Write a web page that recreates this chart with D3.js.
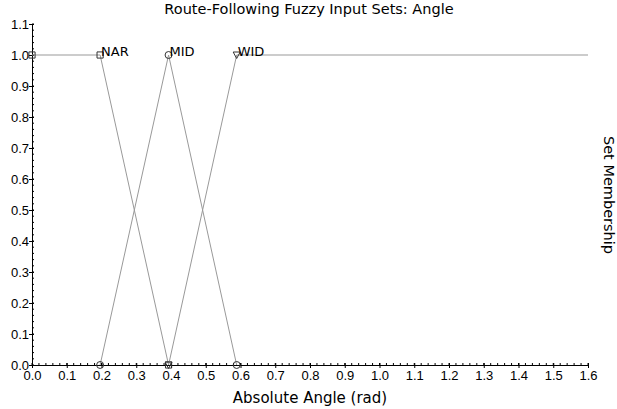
<!DOCTYPE html>
<html>
<head>
<meta charset="utf-8">
<script src="https://cdn.jsdelivr.net/npm/d3@7"></script>
<style>
  body { margin: 0; background: #fff; }
  svg { display: block; font-family: "DejaVu Sans", sans-serif; }
</style>
</head>
<body>
<div id="chart"></div>
<script>
// fuzzy sets: breakpoints (x = angle in rad, y = membership)
const setNames = ["NAR", "MID", "WID"];
const narX = [0.0, 0.196, 0.393];
const narY = [1.0, 1.0, 0.0];
const midX = [0.196, 0.393, 0.589];
const midY = [0.0, 1.0, 0.0];
const widX = [0.393, 0.589, 1.6];
const widY = [0.0, 1.0, 1.0];
const xTicks = d3.range(0, 17).map(i => i / 10);
const yTicks = d3.range(0, 12).map(i => i / 10);

const width = 617, height = 409;
const plotLeft = 32, plotRight = 588, plotTop = 24, plotBottom = 365;

const svg = d3.select("#chart").append("svg")
  .attr("width", width)
  .attr("height", height);

const x = d3.scaleLinear().domain([0, 1.6]).range([plotLeft, plotRight]);
const y = d3.scaleLinear().domain([0, 1.1]).range([plotBottom, plotTop]);

// title
svg.append("text")
  .attr("x", 309).attr("y", 14)
  .attr("text-anchor", "middle")
  .style("font-size", "14.5px")
  .text("Route-Following Fuzzy Input Sets: Angle");

// minor ticks
const xMinor = d3.range(0, 81).map(i => i / 50);
const yMinor = d3.range(0, 56).map(i => i / 50);

svg.append("g")
  .attr("transform", `translate(0,${plotBottom})`)
  .selectAll("line").data(xMinor).enter().append("line")
  .attr("x1", d => x(d)).attr("x2", d => x(d))
  .attr("y1", 0).attr("y2", -2)
  .attr("stroke", "#000");

svg.append("g")
  .attr("transform", `translate(${plotLeft},0)`)
  .selectAll("line").data(yMinor).enter().append("line")
  .attr("y1", d => y(d)).attr("y2", d => y(d))
  .attr("x1", 0).attr("x2", 2)
  .attr("stroke", "#000");

// axes
const xAxis = d3.axisBottom(x)
  .tickValues(xTicks)
  .tickFormat(d3.format(".1f"))
  .tickSize(3)
  .tickSizeOuter(0);

svg.append("g")
  .attr("transform", `translate(0,${plotBottom})`)
  .call(xAxis)
  .call(g => g.selectAll("text").style("font-size", "13px").attr("dy", "0.8em").attr("y", 5).attr("fill", "#000"))
  .call(g => g.selectAll(".tick line").attr("y1", -2));

const yAxis = d3.axisLeft(y)
  .tickValues(yTicks)
  .tickFormat(d3.format(".1f"))
  .tickSize(3)
  .tickSizeOuter(0);

svg.append("g")
  .attr("transform", `translate(${plotLeft},0)`)
  .call(yAxis)
  .call(g => g.selectAll("text").style("font-size", "13px").attr("x", -3).attr("fill", "#000"))
  .call(g => g.selectAll(".tick line").attr("x1", 2));

svg.selectAll(".domain").attr("stroke", "#000");

// axis labels
svg.append("text")
  .attr("x", 310).attr("y", 403)
  .attr("text-anchor", "middle")
  .style("font-size", "15px")
  .text("Absolute Angle (rad)");

svg.append("text")
  .attr("transform", "translate(604,195) rotate(90)")
  .attr("text-anchor", "middle")
  .style("font-size", "14.5px")
  .text("Set Membership");

// series
const series = [
  { name: setNames[0], xs: narX, ys: narY, shape: d3.symbolSquare, peak: 1 },
  { name: setNames[1], xs: midX, ys: midY, shape: d3.symbolCircle, peak: 1 },
  { name: setNames[2], xs: widX, ys: widY, shape: "tri", peak: 1 }
];

const line = d3.line().x(d => x(d[0])).y(d => y(d[1]));

series.forEach(s => {
  const pts = s.xs.map((v, i) => [v, s.ys[i]]);
  svg.append("path")
    .attr("d", line(pts))
    .attr("fill", "none")
    .attr("stroke", "#999")
    .attr("stroke-width", 1);

  const markPts = s.shape === "tri" ? pts.slice(0, 2) : pts;
  svg.selectAll(null).data(markPts).enter().append("path")
    .attr("transform", d => `translate(${x(d[0])},${y(d[1])})`)
    .attr("d", s.shape === "tri" ? "M-3.5,-3L3.5,-3L0,3.5Z" : d3.symbol().type(s.shape).size(38)())
    .attr("fill", "none")
    .attr("stroke", "#333")
    .attr("stroke-width", 1);

  svg.append("text")
    .attr("x", x(s.xs[s.peak]) + 1)
    .attr("y", y(s.ys[s.peak]) + 1)
    .style("font-size", "13px")
    .text(s.name);
});
</script>
</body>
</html>
